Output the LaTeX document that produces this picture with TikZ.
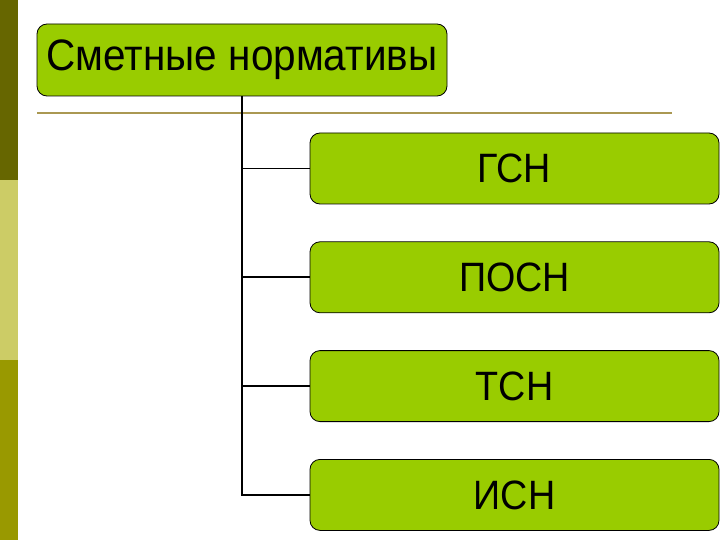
\documentclass[tikz,border=0pt]{standalone}
\usepackage{fontspec}
\setmainfont{Liberation Sans}
\newfontfamily\boxfont[FakeStretch=0.92]{Liberation Sans}
\usetikzlibrary{positioning}

\definecolor{leafgreen}{RGB}{153,204,0}
\definecolor{bandtop}{RGB}{102,102,0}
\definecolor{bandmid}{RGB}{204,204,102}
\definecolor{bandlow}{RGB}{153,153,0}
\definecolor{ruleolive}{RGB}{170,152,82}

\begin{document}
\begin{tikzpicture}[
  x=1pt, y=-1pt,
  box/.style={draw, line width=0.8pt, rounded corners=10pt, fill=leafgreen,
    align=center, inner sep=0pt},
  head/.style={box, minimum width=410pt, minimum height=72pt,
    font=\boxfont\fontsize{44}{48}\selectfont},
  item/.style={box, minimum width=409pt, minimum height=71pt,
    font=\boxfont\fontsize{41}{45}\selectfont},
  link/.style={line width=1.8pt}
]
\useasboundingbox (0,0) rectangle (720,540);

% left band
\fill[bandtop] (0,0) rectangle (18,180);
\fill[bandmid] (0,180) rectangle (18,360);
\fill[bandlow] (0,360) rectangle (18,540);

\node[head] (norm) at (242,60) {Сметные нормативы};
\draw[ruleolive, line width=1.8pt] (37,113) -- (672,113);

\node[item] (gsn) at (514.5,168.5) {ГСН};
\node[item, below=37pt of gsn] (posn) {ПОСН};
\node[item, below=37pt of posn] (tsn) {ТСН};
\node[item, below=37pt of tsn] (isn) {ИСН};

\draw[link] (norm.south) -- (norm.south |- isn.west) -- (isn.west);
\draw[link] (norm.south |- gsn.west) -- (gsn.west);
\draw[link] (norm.south |- posn.west) -- (posn.west);
\draw[link] (norm.south |- tsn.west) -- (tsn.west);

\end{tikzpicture}
\end{document}
